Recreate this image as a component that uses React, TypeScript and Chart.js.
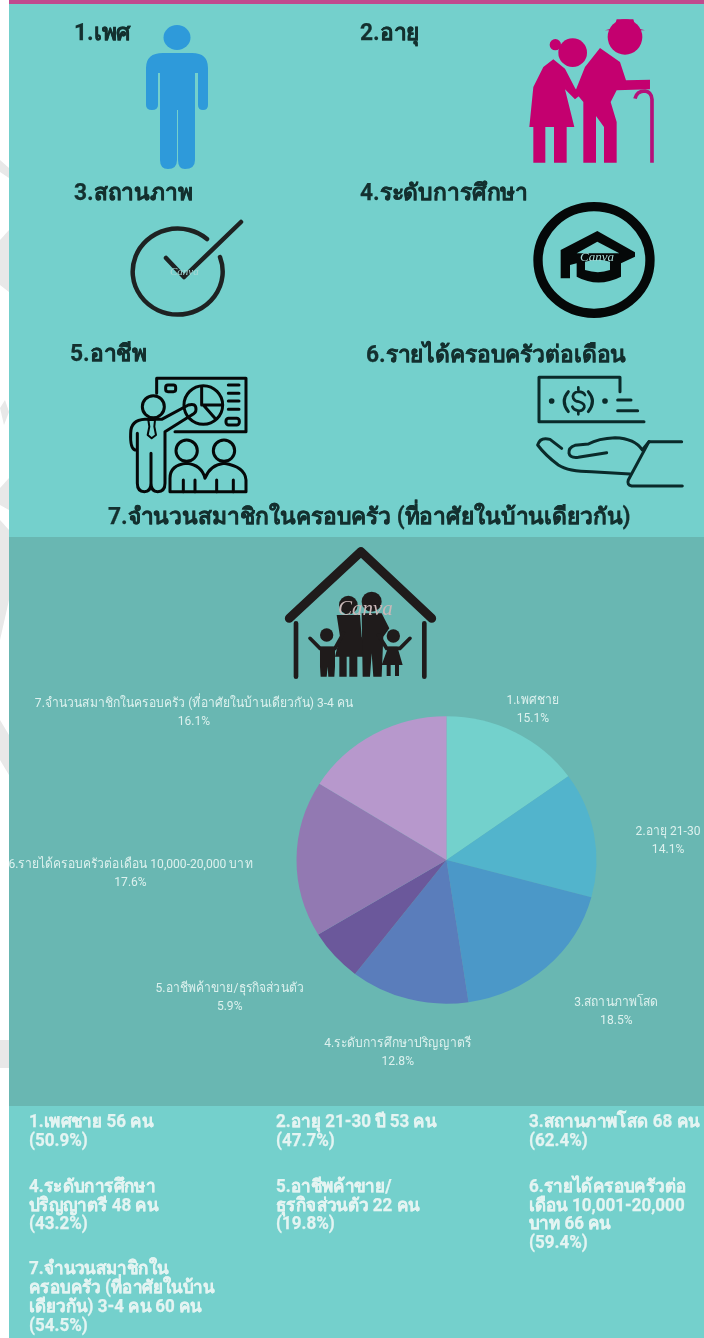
import React, { useEffect, useRef } from "react";
import { Chart, registerables } from "chart.js";

Chart.register(...registerables);

const categories = [
  "1.เพศชาย",
  "2.อายุ 21-30",
  "3.สถานภาพโสด",
  "4.ระดับการศึกษาปริญญาตรี",
  "5.อาชีพค้าขาย/ธุรกิจส่วนตัว",
  "6.รายได้ครอบครัวต่อเดือน 10,000-20,000 บาท",
  "7.จำนวนสมาชิกในครอบครัว (ที่อาศัยในบ้านเดียวกัน) 3-4 คน",
];
const shares = [15.1, 14.1, 18.5, 12.8, 5.9, 17.6, 16.1];
const sliceColors = ["#73D1CC", "#52B4CC", "#4B98C8", "#5A7DBB", "#6B589B", "#9279B2", "#B798CC"];
const labelNudges = [
  [18, -23],
  [74, 6],
  [70, 44],
  [-11, 53.5],
  [-105, 42],
  [-166, 15],
  [-180, -22],
];

const FONT = "Roboto, 'Noto Sans', 'Open Sans', 'DejaVu Sans', sans-serif";
const INK = "#14302F";
const PALE = "#E4F4F2";

const headings: [string, number, number][] = [
  ["1.เพศ", 74, 33],
  ["2.อายุ", 360, 33],
  ["3.สถานภาพ", 74, 193],
  ["4.ระดับการศึกษา", 360, 193],
  ["5.อาชีพ", 70, 354],
  ["6.รายได้ครอบครัวต่อเดือน", 366, 355],
  ["7.จำนวนสมาชิกในครอบครัว (ที่อาศัยในบ้านเดียวกัน)", 108, 517],
];

const notes: [string, number, number][] = [
  ["1.เพศชาย 56 คน", 29, 1121],
  ["(50.9%)", 29, 1140],
  ["2.อายุ 21-30 ปี 53 คน", 276, 1121],
  ["(47.7%)", 276, 1140],
  ["3.สถานภาพโสด 68 คน", 529, 1121],
  ["(62.4%)", 529, 1140],
  ["4.ระดับการศึกษา", 29, 1186],
  ["ปริญญาตรี 48 คน", 29, 1205],
  ["(43.2%)", 29, 1223],
  ["5.อาชีพค้าขาย/", 276, 1186],
  ["ธุรกิจส่วนตัว 22 คน", 276, 1205],
  ["(19.8%)", 276, 1223],
  ["6.รายได้ครอบครัวต่อ", 529, 1186],
  ["เดือน 10,001-20,000", 529, 1205],
  ["บาท 66 คน", 529, 1223],
  ["(59.4%)", 529, 1242],
  ["7.จำนวนสมาชิกใน", 29, 1268],
  ["ครอบครัว (ที่อาศัยในบ้าน", 29, 1287],
  ["เดียวกัน) 3-4 คน 60 คน", 29, 1306],
  ["(54.5%)", 29, 1325],
];

const pieOval = {
  id: "pieOval",
  beforeDatasetDraw(chart: any) {
    const a = chart.getDatasetMeta(0).data[0];
    const { ctx } = chart;
    ctx.save();
    ctx.translate(a.x, a.y);
    ctx.scale(1, 0.958);
    ctx.translate(-a.x, -a.y);
  },
  afterDatasetDraw(chart: any) {
    chart.ctx.restore();
  },
};

const sliceLabels = {
  id: "sliceLabels",
  afterDraw(chart: any) {
    const { ctx } = chart;
    const data = chart.data.datasets[0].data;
    chart.getDatasetMeta(0).data.forEach((arc: any, i: number) => {
      const mid = (arc.startAngle + arc.endAngle) / 2;
      const x = arc.x + Math.cos(mid) * arc.outerRadius + labelNudges[i][0];
      const y = arc.y + Math.sin(mid) * arc.outerRadius * 0.958 + labelNudges[i][1];
      ctx.save();
      ctx.translate(x, y);
      ctx.scale(0.895, 1);
      ctx.font = "13.5px " + FONT;
      ctx.fillStyle = "#DDF1EE";
      ctx.textAlign = "center";
      ctx.textBaseline = "middle";
      ctx.fillText(chart.data.labels[i], 0, -9);
      ctx.fillText(data[i].toFixed(1) + "%", 0, 9);
      ctx.restore();
    });
  },
};

function Line({ text, x, y, size, color, sx }: any) {
  return (
    <div
      style={{
        position: "absolute",
        left: x,
        top: y - size,
        height: size * 2,
        lineHeight: size * 2 + "px",
        fontSize: size,
        fontWeight: 700,
        fontFamily: FONT,
        color,
        whiteSpace: "nowrap",
        WebkitTextStroke: "0.25px " + color,
        transform: `scaleX(${sx})`,
        transformOrigin: "left center",
      }}
    >
      {text}
    </div>
  );
}

function Icons() {
  const z = (x: number, y: number) => `translate(${x} ${y}) scale(0.3333)`;
  const dark = "#1E2222";
  const blk = "#050808";
  const stamp = { fontFamily: "'Liberation Serif', serif", fontStyle: "italic" as const };
  return (
    <svg width={704} height={1338} style={{ position: "absolute", left: 0, top: 0 }}>
      {/* faint watermark showing in the page margin */}
      <g fill="#E8E8E8">
        <polygon points="0,160 9,168 9,178 0,172" />
        <polygon points="0,240 9,230 9,292 0,285" />
        <polygon points="0,408 5,400 9,412 4,425" />
        <polygon points="0,488 9,478 9,510 0,505" />
        <polygon points="0,520 9,530 9,600 0,640" />
        <polygon points="0,720 9,735 9,775 0,760" />
        <polygon points="0,1040 9,1040 9,1068 0,1068" />
      </g>
      {/* 1 person */}
      <g fill="#2E9ADA">
        <ellipse cx={177} cy={37.5} rx={13.5} ry={12.5} />
        <path d="M163,53 H192 Q208,53 208,68 V105 Q208,110 203,110 Q198,110 198,105 V73 H195 V160 Q195,169 185,169 Q178,169 178,160 V110 H177 V160 Q177,169 168,169 Q160,169 160,160 V73 H158 V105 Q158,110 152,110 Q146,110 146,105 V68 Q146,53 163,53 Z" />
      </g>
      {/* 2 couple */}
      <g transform={z(520, 12)} fill="#C4006F">
        <ellipse cx={315} cy={75} rx={52} ry={53} />
        <path d="M290,22 L340,22 L348,48 L375,55 L255,55 L282,48 Z" />
        <circle cx={158} cy={122} r={43} />
        <circle cx={106} cy={98} r={17} />
        <path d="M100,142 L135,170 L165,228 L180,250 L165,262 L135,232 L163,345 L140,345 L140,452 L102,452 L102,345 L76,345 L76,452 L40,452 L40,345 L28,345 L40,225 L70,165 Z" />
        <path d="M240,108 L300,150 L318,205 L390,203 L390,232 L290,235 L272,270 L290,330 L290,452 L252,452 L252,345 L228,312 L228,452 L190,452 L190,270 L165,240 L195,165 Z" />
        <path d="M345,260 Q350,237 375,237 Q395,240 396,262 L396,452" fill="none" stroke="#B5107A" strokeWidth={11} />
      </g>
      {/* 3 check */}
      <g fill="none" stroke={dark} strokeWidth={4.5} strokeLinecap="round" strokeLinejoin="round">
        <path d="M207,239 A45,43 0 1 0 220,257" />
        <polyline points="166,258 184,277 241,222" />
      </g>
      <text x={170} y={275} fontSize={11} fill="#A9D9D6" style={stamp}>Canva</text>
      {/* 4 cap */}
      <g transform={z(520, 195)}>
        <ellipse cx={222} cy={195} rx={168} ry={160} fill="none" stroke={blk} strokeWidth={28} />
        <path d="M232,108 L345,172 L345,185 L303,205 L303,245 Q235,280 170,245 L170,205 L150,210 L150,250 L122,250 L122,165 Z" fill={blk} />
        <path d="M232,140 L298,175 L170,175 Z" fill="#74D0CC" />
        <path d="M195,200 Q235,188 270,200 L270,225 Q235,238 195,225 Z" fill="#74D0CC" />
      </g>
      <text x={580} y={261} fontSize={13} fill="#A9D9D6" style={stamp}>Canva</text>
      {/* 5 presenter */}
      <g transform={z(120, 370)} fill="none" stroke={blk} strokeWidth={9} strokeLinejoin="round" strokeLinecap="round">
        <path d="M110,70 L110,25 L378,25 L378,185 L165,185" />
        <rect x={137} y={45} width={30} height={20} rx={7} />
        <circle cx={250} cy={105} r={58} />
        <path d="M245,50 L245,105 L305,105 M250,105 L285,145" />
        <path d="M325,45 H357 M325,70 H357 M325,93 H357 M325,118 H357" />
        <rect x={318} y={145} width={40} height={20} rx={8} />
        <circle cx={100} cy={110} r={33} />
        <path d="M45,240 Q30,235 32,190 Q32,150 75,148 L125,148 L205,105 Q228,98 228,118 Q228,130 215,135 L135,185 L135,340 Q135,365 113,365 Q93,365 93,340 L93,250 M93,340 Q93,365 73,365 Q52,365 52,340 L52,190" />
        <path d="M85,150 L105,150 L103,170 L108,195 L95,205 L83,195 L88,170 Z" strokeWidth={6} />
        <circle cx={200} cy={242} r={32} />
        <circle cx={312} cy={242} r={32} />
        <path d="M150,365 L150,325 Q150,285 200,280 Q245,285 255,325 Q270,285 312,280 Q375,290 378,330 L378,365 Z" />
        <path d="M190,330 V365 M225,330 V365 M290,330 V365 M340,330 V365" />
      </g>
      {/* 6 bill and hand */}
      <g transform={z(525, 370)} fill="none" stroke="#0A2A2A" strokeWidth={9} strokeLinejoin="round" strokeLinecap="round">
        <path d="M285,65 L285,22 L42,22 L42,155 L357,155" />
        <circle cx={80} cy={93} r={4} />
        <circle cx={240} cy={93} r={4} />
        <path d="M130,65 Q105,93 130,125 M190,65 Q215,93 190,125" />
        <path d="M180,75 Q175,65 160,65 Q140,68 145,85 Q150,95 162,95 Q180,100 178,112 Q172,125 158,122 Q145,120 142,110 M160,52 V60 M160,125 V133" strokeWidth={8} />
        <path d="M278,90 H318 M278,122 H338" />
        <path d="M470,215 L372,215 L352,240 Q330,205 270,203 Q220,205 190,222 L150,226 Q130,232 132,250 Q135,265 160,262 L245,248" />
        <path d="M110,235 L75,208 Q45,200 38,225 Q60,255 100,285 Q130,305 200,305 L315,312" />
        <path d="M372,215 L310,330 Q305,345 320,348 L472,348" />
      </g>
      {/* 7 family in house */}
      <g transform={z(280, 540)} fill="#1F1B1B">
        <polyline points="28,235 243,35 455,235" fill="none" stroke="#1F1B1B" strokeWidth={27} strokeLinecap="round" strokeLinejoin="round" />
        <path d="M48,250 V410 M433,250 V410" stroke="#1F1B1B" strokeWidth={14} strokeLinecap="round" />
        <circle cx={205} cy={195} r={28} />
        <circle cx={275} cy={185} r={30} />
        <path d="M170,225 L240,225 L245,290 L270,350 L232,350 L232,410 H208 V350 H200 V410 H178 V350 H165 L180,290 Z" />
        <path d="M245,220 L305,220 L328,265 L310,290 L305,410 H280 L275,340 L270,410 H248 Z" />
        <circle cx={140} cy={285} r={20} />
        <path d="M90,295 L120,325 H165 L190,280" fill="none" stroke="#1F1B1B" strokeWidth={11} strokeLinecap="round" />
        <path d="M120,320 H165 V380 L163,410 H145 L143,380 L140,410 H122 L120,380 Z" />
        <circle cx={340} cy={288} r={20} />
        <path d="M295,285 L320,325 H360 L390,295" fill="none" stroke="#1F1B1B" strokeWidth={11} strokeLinecap="round" />
        <path d="M325,320 H352 L368,375 H357 V408 H345 V375 H332 V408 H320 V375 H305 Z" />
      </g>
      <text x={338} y={615} fontSize={21} fill="#C9B8B8" style={stamp}>Canva</text>
    </svg>
  );
}

export default function App() {
  const ref = useRef<HTMLCanvasElement>(null);
  useEffect(() => {
    document.body.style.margin = "0";
    const chart = new Chart(ref.current!, {
      type: "pie",
      data: {
        labels: categories,
        datasets: [{ data: shares, backgroundColor: sliceColors, borderWidth: 0 }],
      },
      options: {
        responsive: false,
        animation: false,
        layout: { padding: { left: 189, right: 0, top: 173, bottom: 96 } },
        plugins: { legend: { display: false }, tooltip: { enabled: false } },
      },
      plugins: [pieOval, sliceLabels],
    });
    return () => chart.destroy();
  }, []);

  return (
    <div style={{ position: "relative", width: 704, height: 1338, overflow: "hidden", background: "#fff" }}>
      <div style={{ position: "absolute", left: 9, top: 0, width: 695, height: 4, background: "#C04A8E" }} />
      <div style={{ position: "absolute", left: 9, top: 4, width: 695, height: 533, background: "#74D0CC" }} />
      <div style={{ position: "absolute", left: 9, top: 537, width: 695, height: 569, background: "#69B7B2" }} />
      <div style={{ position: "absolute", left: 9, top: 1106, width: 695, height: 232, background: "#74D0CC" }} />
      <canvas ref={ref} width={704} height={569} style={{ position: "absolute", left: 0, top: 537, display: "block" }} />
      <Icons />
      {headings.map(([t, x, y]) => (
        <Line key={t} text={t} x={x} y={y} size={23} color={INK} sx={0.99} />
      ))}
      {notes.map(([t, x, y]) => (
        <Line key={t} text={t} x={x} y={y} size={18} color={PALE} sx={0.945} />
      ))}
    </div>
  );
}
